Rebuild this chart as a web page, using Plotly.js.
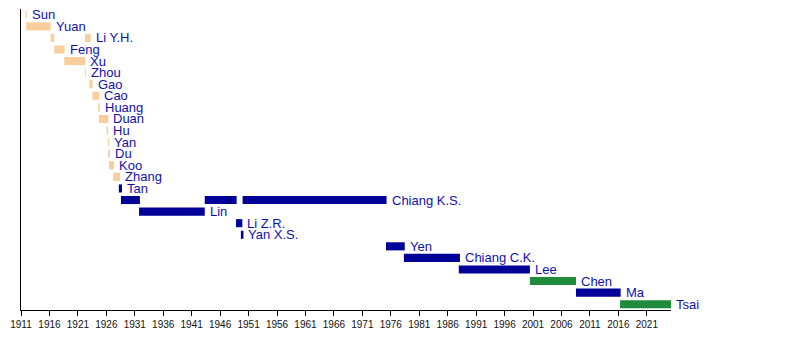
<!DOCTYPE html>
<html>
<head>
<meta charset="utf-8">
<script src="https://cdn.plot.ly/plotly-3.0.1.min.js"></script>
<style>html,body{margin:0;padding:0;background:#fff;}#chart{width:800px;height:360px;}</style>
</head>
<body>
<div id="chart"></div>
<script>
// Presidents (one row each, top to bottom)
const presidents = ['Sun','Yuan','Li Y.H.','Feng','Xu','Zhou','Gao','Cao','Huang','Duan','Hu','Yan','Du','Koo','Zhang','Tan','Chiang K.S.','Lin','Li Z.R.','Yan X.S.','Yen','Chiang C.K.','Lee','Chen','Ma','Tsai'];
const party = ['Early','Early','Early','Early','Early','Early','Early','Early','Early','Early','Early','Early','Early','Early','Early','KMT','KMT','KMT','KMT','KMT','KMT','KMT','KMT','DPP','KMT','DPP'];

// Terms (row index, start year, end year)
const termRow   = [0, 1, 2, 2, 3, 4, 5, 6, 7, 8, 9, 10, 11, 12, 13, 14, 15, 16, 16, 16, 17, 18, 19, 20, 21, 22, 23, 24, 25];
const termStart = [1911.8, 1911.9, 1916.2, 1922.25, 1916.85, 1918.6, 1922.25, 1923.0, 1923.55, 1924.55, 1924.7, 1926.05, 1926.25, 1926.35, 1926.45, 1927.2, 1928.2, 1928.57, 1943.3, 1949.95, 1931.75, 1948.8, 1949.65, 1975.15, 1978.3, 1987.95, 2000.45, 2008.55, 2016.3];
const termEnd   = [1912.0, 1916.2, 1916.85, 1923.25, 1918.65, 1922.3, 1922.4, 1923.6, 1924.7, 1924.85, 1926.35, 1926.3, 1926.45, 1926.65, 1927.35, 1928.4, 1928.75, 1931.9, 1948.9, 1975.25, 1943.3, 1949.9, 1950.1, 1978.45, 1988.15, 2000.45, 2008.55, 2016.4, 2025.25];

const xTickStart = 1911, xTickStep = 5;

const partyColor = {Early: '#F8CE9C', KMT: '#000099', DPP: '#1E8C3A'};

const traces = Object.keys(partyColor).map(function (p) {
  const idx = termRow.map(function (r, i) { return i; }).filter(function (i) { return party[termRow[i]] === p; });
  return {
    type: 'bar',
    orientation: 'h',
    y: idx.map(function (i) { return termRow[i]; }),
    base: idx.map(function (i) { return termStart[i]; }),
    x: idx.map(function (i) { return termEnd[i] - termStart[i]; }),
    width: 0.7,
    marker: {color: partyColor[p], line: {width: 0}},
    hoverinfo: 'skip',
    showlegend: false
  };
});

const annotations = presidents.map(function (name, r) {
  let end = -Infinity;
  termRow.forEach(function (row, i) { if (row === r && termEnd[i] > end) end = termEnd[i]; });
  return {
    x: end, y: r, xref: 'x', yref: 'y', text: name, showarrow: false,
    xanchor: 'left', yanchor: 'middle', xshift: 3,
    font: {family: 'Liberation Sans, Arial, sans-serif', size: 13, color: '#1010A8'}
  };
});

const layout = {
  width: 800, height: 360,
  margin: {l: 21, r: 129, t: 9, b: 50},
  paper_bgcolor: '#fff', plot_bgcolor: '#fff',
  barmode: 'overlay',
  showlegend: false,
  font: {family: 'Liberation Sans, Arial, sans-serif'},
  xaxis: {
    range: [1911, 2025.25], tick0: xTickStart, dtick: xTickStep,
    ticks: 'outside', ticklen: 5, tickcolor: '#000', tickwidth: 1,
    showline: true, linecolor: '#000', linewidth: 1,
    showgrid: false, zeroline: false,
    tickfont: {size: 10, color: '#111', family: 'Liberation Sans, Arial, sans-serif'}
  },
  yaxis: {
    range: [25.5, -0.5], showline: true, linecolor: '#000', linewidth: 1,
    showticklabels: false, ticks: '', showgrid: false, zeroline: false
  },
  annotations: annotations
};

Plotly.newPlot('chart', traces, layout, {displayModeBar: false, staticPlot: true});
</script>
</body>
</html>
